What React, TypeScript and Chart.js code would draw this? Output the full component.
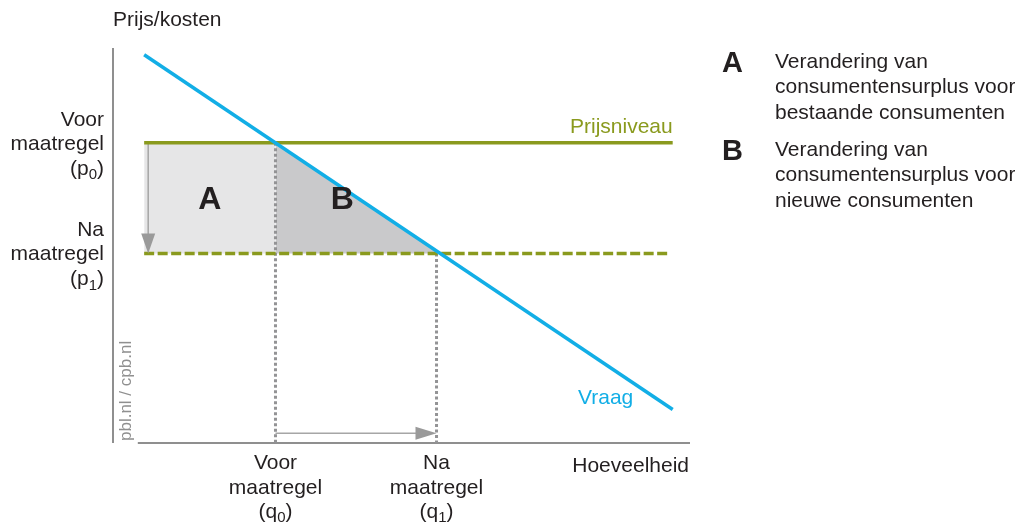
import React, { useEffect, useRef } from "react";
import { Chart, registerables } from "chart.js";

Chart.register(...registerables);

const FONT = "'Liberation Sans', Arial, Helvetica, sans-serif";

// Data (x = hoeveelheid, y = prijs/kosten; both on 0..100 scale)
const demandQuantity = [5.4, 97];
const demandPrice = [98.3, 8.5];
const priceLevels = [76, 48]; // p0 (voor), p1 (na)
const quantities = [28.16, 56.07]; // q0 (voor), q1 (na)
const crossQuantity = 56.7; // demand crosses p1
const solidRange = [5.4, 97];
const dashedRange = [5.4, 96.5];
const priceArrowQuantity = 6.1;
const quantityArrowPrice = 2.5;
const quantityAxisStart = 4.3;

// Text
const priceAxisTitle = "Prijs/kosten";
const quantityAxisTitle = "Hoeveelheid";
const priceLabels = [
  ["Voor", "maatregel", "p", "0"],
  ["Na", "maatregel", "p", "1"],
];
const quantityLabels = [
  ["Voor", "maatregel", "q", "0"],
  ["Na", "maatregel", "q", "1"],
];
const areaLetters = ["A", "B"];
const legendLines = [
  ["Verandering van", "consumentensurplus voor", "bestaande consumenten"],
  ["Verandering van", "consumentensurplus voor", "nieuwe consumenten"],
];
const sourceText = "pbl.nl / cpb.nl";
const priceLevelLabel = "Prijsniveau";
const demandLabel = "Vraag";

const GREEN = "#8a9a1e";
const BLUE = "#12aee6";
const GRAY = "#939395";
const TEXT = "#231f20";
const FS = 21;

function drawSubLabel(ctx: CanvasRenderingContext2D, base: string, sub: string, x: number, y: number, align: "center" | "right") {
  const big = `${FS}px ${FONT}`;
  const small = `15px ${FONT}`;
  ctx.font = big;
  const w1 = ctx.measureText("(" + base).width;
  const w3 = ctx.measureText(")").width;
  ctx.font = small;
  const w2 = ctx.measureText(sub).width;
  const total = w1 + w2 + w3;
  const left = align === "center" ? x - total / 2 : x - total;
  ctx.textAlign = "left";
  ctx.textBaseline = "middle";
  ctx.font = big;
  ctx.fillText("(" + base, left, y);
  ctx.font = small;
  ctx.fillText(sub, left + w1, y + 6);
  ctx.font = big;
  ctx.fillText(")", left + w1 + w2, y);
}

const decorPlugin = {
  id: "decor",
  beforeDatasetsDraw(chart: any) {
    const { ctx } = chart;
    const xs = chart.scales.x;
    const ys = chart.scales.y;
    ctx.save();
    ctx.strokeStyle = "#8f8f8f";
    ctx.lineWidth = 2;
    ctx.beginPath();
    ctx.moveTo(xs.getPixelForValue(0), ys.getPixelForValue(100));
    ctx.lineTo(xs.getPixelForValue(0), ys.getPixelForValue(0));
    ctx.stroke();
    ctx.beginPath();
    ctx.moveTo(xs.getPixelForValue(quantityAxisStart), ys.getPixelForValue(0));
    ctx.lineTo(xs.getPixelForValue(100), ys.getPixelForValue(0));
    ctx.stroke();
    ctx.restore();
  },
  afterDatasetsDraw(chart: any) {
    const { ctx } = chart;
    const xs = chart.scales.x;
    const ys = chart.scales.y;
    ctx.save();
    // arrow heads
    ctx.fillStyle = "#9a9a9a";
    const ax = xs.getPixelForValue(priceArrowQuantity);
    const ay = ys.getPixelForValue(priceLevels[1]);
    ctx.beginPath();
    ctx.moveTo(ax, ay);
    ctx.lineTo(ax - 7, ay - 20);
    ctx.lineTo(ax + 7, ay - 20);
    ctx.closePath();
    ctx.fill();
    const hx = xs.getPixelForValue(quantities[1]);
    const hy = ys.getPixelForValue(quantityArrowPrice);
    ctx.beginPath();
    ctx.moveTo(hx, hy);
    ctx.lineTo(hx - 21, hy - 6.5);
    ctx.lineTo(hx - 21, hy + 6.5);
    ctx.closePath();
    ctx.fill();

    // axis titles
    ctx.fillStyle = TEXT;
    ctx.font = `${FS}px ${FONT}`;
    ctx.textBaseline = "middle";
    ctx.textAlign = "left";
    ctx.fillText(priceAxisTitle, xs.getPixelForValue(0), 20);
    ctx.textAlign = "right";
    ctx.fillText(quantityAxisTitle, xs.getPixelForValue(100) - 1, ys.getPixelForValue(0) + 23);

    // price labels
    const px = xs.getPixelForValue(0) - 9;
    priceLabels.forEach((lab, i) => {
      const cy = ys.getPixelForValue(priceLevels[i]);
      ctx.font = `${FS}px ${FONT}`;
      ctx.textAlign = "right";
      ctx.fillText(lab[0], px, cy - 23);
      ctx.fillText(lab[1], px, cy + 1);
      drawSubLabel(ctx, lab[2], lab[3], px, cy + 26, "right");
    });
    // quantity labels
    quantityLabels.forEach((lab, i) => {
      const cx = xs.getPixelForValue(quantities[i]);
      const base = ys.getPixelForValue(0);
      ctx.font = `${FS}px ${FONT}`;
      ctx.textAlign = "center";
      ctx.fillText(lab[0], cx, base + 20);
      ctx.fillText(lab[1], cx, base + 45);
      drawSubLabel(ctx, lab[2], lab[3], cx, base + 69, "center");
    });

    // area letters
    ctx.font = `bold 32px ${FONT}`;
    ctx.textAlign = "center";
    const midP = (priceLevels[0] + priceLevels[1]) / 2;
    ctx.fillText(areaLetters[0], xs.getPixelForValue((solidRange[0] + quantities[0]) / 2), ys.getPixelForValue(midP) + 2);
    ctx.fillText(areaLetters[1], xs.getPixelForValue(quantities[0] + 11.6), ys.getPixelForValue(midP) + 2);

    // series labels
    ctx.font = `${FS}px ${FONT}`;
    ctx.fillStyle = GREEN;
    ctx.textAlign = "right";
    ctx.fillText(priceLevelLabel, xs.getPixelForValue(solidRange[1]), ys.getPixelForValue(priceLevels[0]) - 16);
    ctx.fillStyle = BLUE;
    ctx.textAlign = "left";
    ctx.fillText(demandLabel, 578, 398);

    // source text (rotated)
    ctx.save();
    ctx.translate(126, ys.getPixelForValue(0) - 2);
    ctx.rotate(-Math.PI / 2);
    ctx.fillStyle = "#8f8f8f";
    ctx.font = `17px ${FONT}`;
    ctx.textAlign = "left";
    ctx.textBaseline = "middle";
    ctx.fillText(sourceText, 0, 0);
    ctx.restore();

    // legend
    const legendTops = [62, 150];
    legendLines.forEach((lines, i) => {
      ctx.fillStyle = TEXT;
      ctx.font = `bold 29px ${FONT}`;
      ctx.textAlign = "left";
      ctx.fillText(areaLetters[i], 722, legendTops[i] + 2);
      ctx.font = `${FS}px ${FONT}`;
      lines.forEach((t, j) => {
        ctx.fillText(t, 775, legendTops[i] + j * 25.5);
      });
    });
    ctx.restore();
  },
};

export default function App() {
  const ref = useRef<HTMLCanvasElement | null>(null);
  useEffect(() => {
    if (!ref.current) return;
    const pt = (x: number, y: number) => ({ x, y });
    const chart = new Chart(ref.current, {
      type: "scatter",
      data: {
        datasets: [
          {
            data: [pt(solidRange[0], priceLevels[0]), pt(quantities[0], priceLevels[0])],
            showLine: true,
            borderWidth: 0,
            pointRadius: 0,
            fill: { value: priceLevels[1] },
            backgroundColor: "#e6e6e7",
            order: 10,
          },
          {
            data: [pt(quantities[0], priceLevels[0]), pt(crossQuantity, priceLevels[1])],
            showLine: true,
            borderWidth: 0,
            pointRadius: 0,
            fill: { value: priceLevels[1] },
            backgroundColor: "#c9c9cb",
            order: 9,
          },
          {
            data: [pt(quantities[0], priceLevels[0]), pt(quantities[0], 0)],
            showLine: true,
            borderColor: GRAY,
            borderWidth: 3,
            borderDash: [3, 2.5],
            pointRadius: 0,
            order: 8,
          },
          {
            data: [pt(quantities[1], priceLevels[1]), pt(quantities[1], 0)],
            showLine: true,
            borderColor: GRAY,
            borderWidth: 3,
            borderDash: [3, 2.5],
            pointRadius: 0,
            order: 8,
          },
          {
            data: [pt(priceArrowQuantity, priceLevels[0]), pt(priceArrowQuantity, priceLevels[1] + 4)],
            showLine: true,
            borderColor: "#a6a6a6",
            borderWidth: 1.5,
            pointRadius: 0,
            order: 7,
          },
          {
            data: [pt(quantities[0], quantityArrowPrice), pt(quantities[1] - 3, quantityArrowPrice)],
            showLine: true,
            borderColor: "#a6a6a6",
            borderWidth: 1.5,
            pointRadius: 0,
            order: 7,
          },
          {
            data: [pt(solidRange[0], priceLevels[0]), pt(solidRange[1], priceLevels[0])],
            showLine: true,
            borderColor: GREEN,
            borderWidth: 3.5,
            pointRadius: 0,
            order: 5,
          },
          {
            data: [pt(dashedRange[0], priceLevels[1]), pt(dashedRange[1], priceLevels[1])],
            showLine: true,
            borderColor: GREEN,
            borderWidth: 3.5,
            borderDash: [10, 3.5],
            pointRadius: 0,
            order: 5,
          },
          {
            data: demandQuantity.map((q, i) => pt(q, demandPrice[i])),
            showLine: true,
            borderColor: BLUE,
            borderWidth: 3.5,
            pointRadius: 0,
            order: 1,
          },
        ],
      },
      options: {
        animation: false,
        responsive: true,
        maintainAspectRatio: false,
        events: [],
        layout: { padding: { left: 113, right: 325, top: 48, bottom: 81 } },
        scales: {
          x: { type: "linear", min: 0, max: 100, display: false },
          y: { type: "linear", min: 0, max: 100, display: false },
        },
        plugins: {
          legend: { display: false },
          tooltip: { enabled: false },
        },
      },
      plugins: [decorPlugin],
    } as any);
    return () => chart.destroy();
  }, []);
  return (
    <div style={{ position: "absolute", left: 0, top: 0, width: 1015, height: 524, background: "#fff" }}>
      <canvas ref={ref} />
    </div>
  );
}
